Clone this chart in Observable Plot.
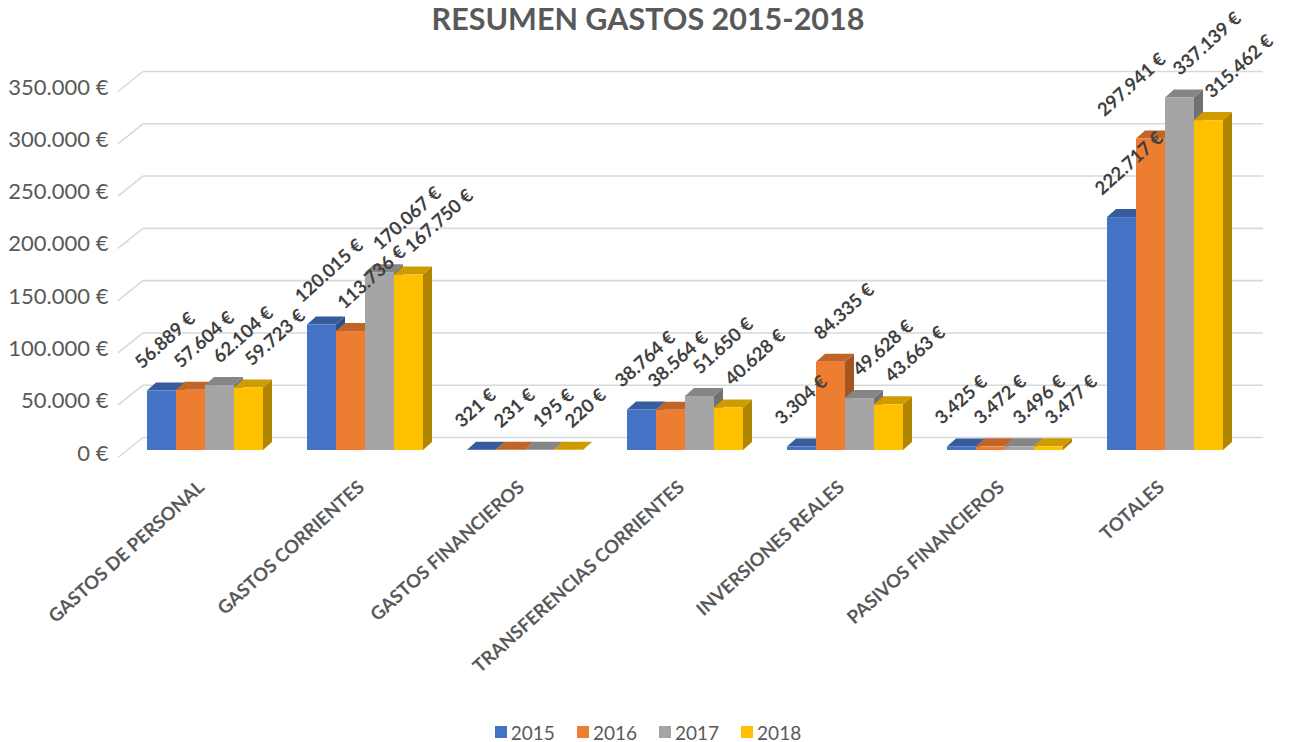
<!DOCTYPE html>
<html>
<head>
<meta charset="utf-8">
<script src="https://cdn.jsdelivr.net/npm/d3@7"></script>
<script src="https://cdn.jsdelivr.net/npm/@observablehq/plot@0.6"></script>
<style>
  html, body { margin: 0; padding: 0; background: #fff; }
  #wrap { position: relative; width: 1296px; height: 742px; overflow: hidden; font-family: Lato, "Open Sans", sans-serif; }
  #chart { position: absolute; left: 0; top: 0; }
  #title { position: absolute; left: 0; top: 0; width: 1296px; height: 36px; line-height: 36px; text-align: center;
           font-weight: bold; font-size: 30.5px; color: #595959; z-index: 2; }
  #legend { position: absolute; left: 0; top: 717px; width: 1296px; height: 30px; display: flex; justify-content: center;
            align-items: center; gap: 22px; font-size: 19px; color: #595959; }
  .item { display: flex; align-items: center; }
  .sw { width: 12px; height: 12px; margin-right: 4px; }
</style>
</head>
<body>
<div id="wrap">
  <div id="chart"></div>
  <div id="title">RESUMEN GASTOS 2015-2018</div>
  <div id="legend"></div>
</div>
<script>
const categories = ["GASTOS DE PERSONAL", "GASTOS CORRIENTES", "GASTOS FINANCIEROS", "TRANSFERENCIAS CORRIENTES", "INVERSIONES REALES", "PASIVOS FINANCIEROS", "TOTALES"];
const years = ["2015", "2016", "2017", "2018"];
const values2015 = [56889, 120015, 321, 38764, 3304, 3425, 222717];
const values2016 = [57604, 113736, 231, 38564, 84335, 3472, 297941];
const values2017 = [62104, 170067, 195, 51650, 49628, 3496, 337139];
const values2018 = [59723, 167750, 220, 40628, 43663, 3477, 315462];
const yTicks = [0, 50000, 100000, 150000, 200000, 250000, 300000, 350000];
const colors = ["#4472C4", "#ED7D31", "#A5A5A5", "#FFC000"];

const series = [values2015, values2016, values2017, values2018];
const data = [];
categories.forEach((cat, i) => {
  years.forEach((yr, j) => data.push({cat, year: yr, value: series[j][i]}));
});

const loc = d3.formatLocale({decimal: ",", thousands: ".", grouping: [3], currency: ["", " €"]});
const fmt = loc.format("$,.0f");

const SVGNS = "http://www.w3.org/2000/svg";
const DX = 9, DY = 8;
const LABEL_FONT = 18.5;
const ANGLE = 42;

function bar3d(index, scales, values, dims, ctx, next) {
  const g = next(index, scales, values, dims, ctx);
  const rects = Array.from(g.querySelectorAll("rect"));
  for (const r of rects) {
    const x = +r.getAttribute("x"), y = +r.getAttribute("y");
    const w = +r.getAttribute("width"), h = +r.getAttribute("height");
    const f = r.getAttribute("fill") || "#888";
    const x2 = x + w, yb = y + h;
    const side = document.createElementNS(SVGNS, "polygon");
    side.setAttribute("points", `${x2},${yb} ${x2 + DX},${yb - DY} ${x2 + DX},${y - DY} ${x2},${y}`);
    side.setAttribute("fill", d3.color(f).darker(1.05).formatHex());
    const top = document.createElementNS(SVGNS, "polygon");
    top.setAttribute("points", `${x},${y} ${x + DX},${y - DY} ${x2 + DX},${y - DY} ${x2},${y}`);
    top.setAttribute("fill", d3.color(f).darker(0.6).formatHex());
    g.insertBefore(side, r);
    g.insertBefore(top, r);
  }
  return g;
}

function gridRender(index, scales, values, dims, ctx, next) {
  const g = next(index, scales, values, dims, ctx);
  const lines = Array.from(g.querySelectorAll("line"));
  for (const ln of lines) {
    const lx = +ln.getAttribute("x1");
    const ly = +ln.getAttribute("y1");
    const c = document.createElementNS(SVGNS, "line");
    c.setAttribute("x1", lx - 25);
    c.setAttribute("y1", ly + 20);
    c.setAttribute("x2", lx);
    c.setAttribute("y2", ly);
    g.appendChild(c);
  }
  return g;
}

// Rotated data labels: base offset per bar, then nudge overlapping labels apart
const labelDx = [-24, -14, -4, -1];
const labelDy = -26;
const measureCtx = document.createElement("canvas").getContext("2d");
measureCtx.font = `bold ${LABEL_FONT}px Lato`;
function dodgeLabels(index, scales, values, dims, ctx, next) {
  const X = Float64Array.from(values.x), Y = Float64Array.from(values.y);
  const idx = Array.from(index).sort((a, b) => values.x[a] - values.x[b]);
  idx.forEach((i, j) => { X[i] += labelDx[j] ?? 0; Y[i] += labelDy; });
  const L = new Map(idx.map(i => [i, measureCtx.measureText(fmt(data[i].value)).width]));
  const t = ANGLE * Math.PI / 180, cs = Math.cos(t), sn = Math.sin(t);
  const U = i => X[i] * cs - Y[i] * sn;
  const V = i => X[i] * sn + Y[i] * cs;
  const G = 20;
  for (let j = idx.length - 2; j >= 0; --j) {
    const a = idx[j];
    for (let iter = 0; iter < 8; ++iter) {
      let moved = false;
      for (let k = j + 1; k < idx.length; ++k) {
        const b = idx[k];
        const ua = U(a), ub = U(b);
        if (!(ua < ub + L.get(b) + 2 && ub < ua + L.get(a) + 2)) continue;
        const d = V(a) - V(b);
        if (Math.abs(d) < G) {
          const dv = d < 7 ? -(G + d) : (G - d);
          X[a] += dv / sn;
          moved = true;
        }
      }
      if (!moved) break;
    }
  }
  return next(index, scales, {...values, x: X, y: Y}, dims, ctx);
}

const chart = Plot.plot({
  width: 1296,
  height: 712,
  marginLeft: 147,
  marginRight: 73,
  marginTop: 84,
  marginBottom: 262,
  style: {background: "transparent", overflow: "visible", fontFamily: "Lato, 'Open Sans', sans-serif"},
  fx: {domain: categories, paddingInner: 0.275, paddingOuter: 0, axis: null},
  x: {domain: years, padding: 0, axis: null},
  y: {domain: [0, 350000], axis: null},
  color: {domain: years, range: colors},
  marks: [
    Plot.ruleY(yTicks, {facetAnchor: "left", stroke: "#d9d9d9", strokeWidth: 1.6, dy: -13, insetLeft: -4, insetRight: -1000, render: gridRender}),
    Plot.axisY({ticks: yTicks, tickFormat: fmt, tickSize: 0, tickPadding: 39, dy: 3, fontSize: 22, color: "#595959", label: null}),
    Plot.barY(data, {fx: "cat", x: "year", y: "value", fill: "year", render: bar3d}),
    Plot.text(data, {fx: "cat", x: "year", y: "value", text: d => fmt(d.value), rotate: -ANGLE, textAnchor: "start",
      fontSize: LABEL_FONT, fontWeight: "bold", fill: "#404040", render: dodgeLabels}),
    Plot.axisFx({anchor: "bottom", tickRotate: -ANGLE, tickSize: 0, tickPadding: 34, dx: -4, fontSize: 18.5, fontWeight: "bold", color: "#595959", label: null})
  ]
});
document.getElementById("chart").appendChild(chart);

const legend = document.getElementById("legend");
years.forEach((yr, j) => {
  const it = document.createElement("div");
  it.className = "item";
  const sw = document.createElement("div");
  sw.className = "sw";
  sw.style.background = colors[j];
  const t = document.createElement("span");
  t.textContent = yr;
  it.appendChild(sw);
  it.appendChild(t);
  legend.appendChild(it);
});
</script>
</body>
</html>
